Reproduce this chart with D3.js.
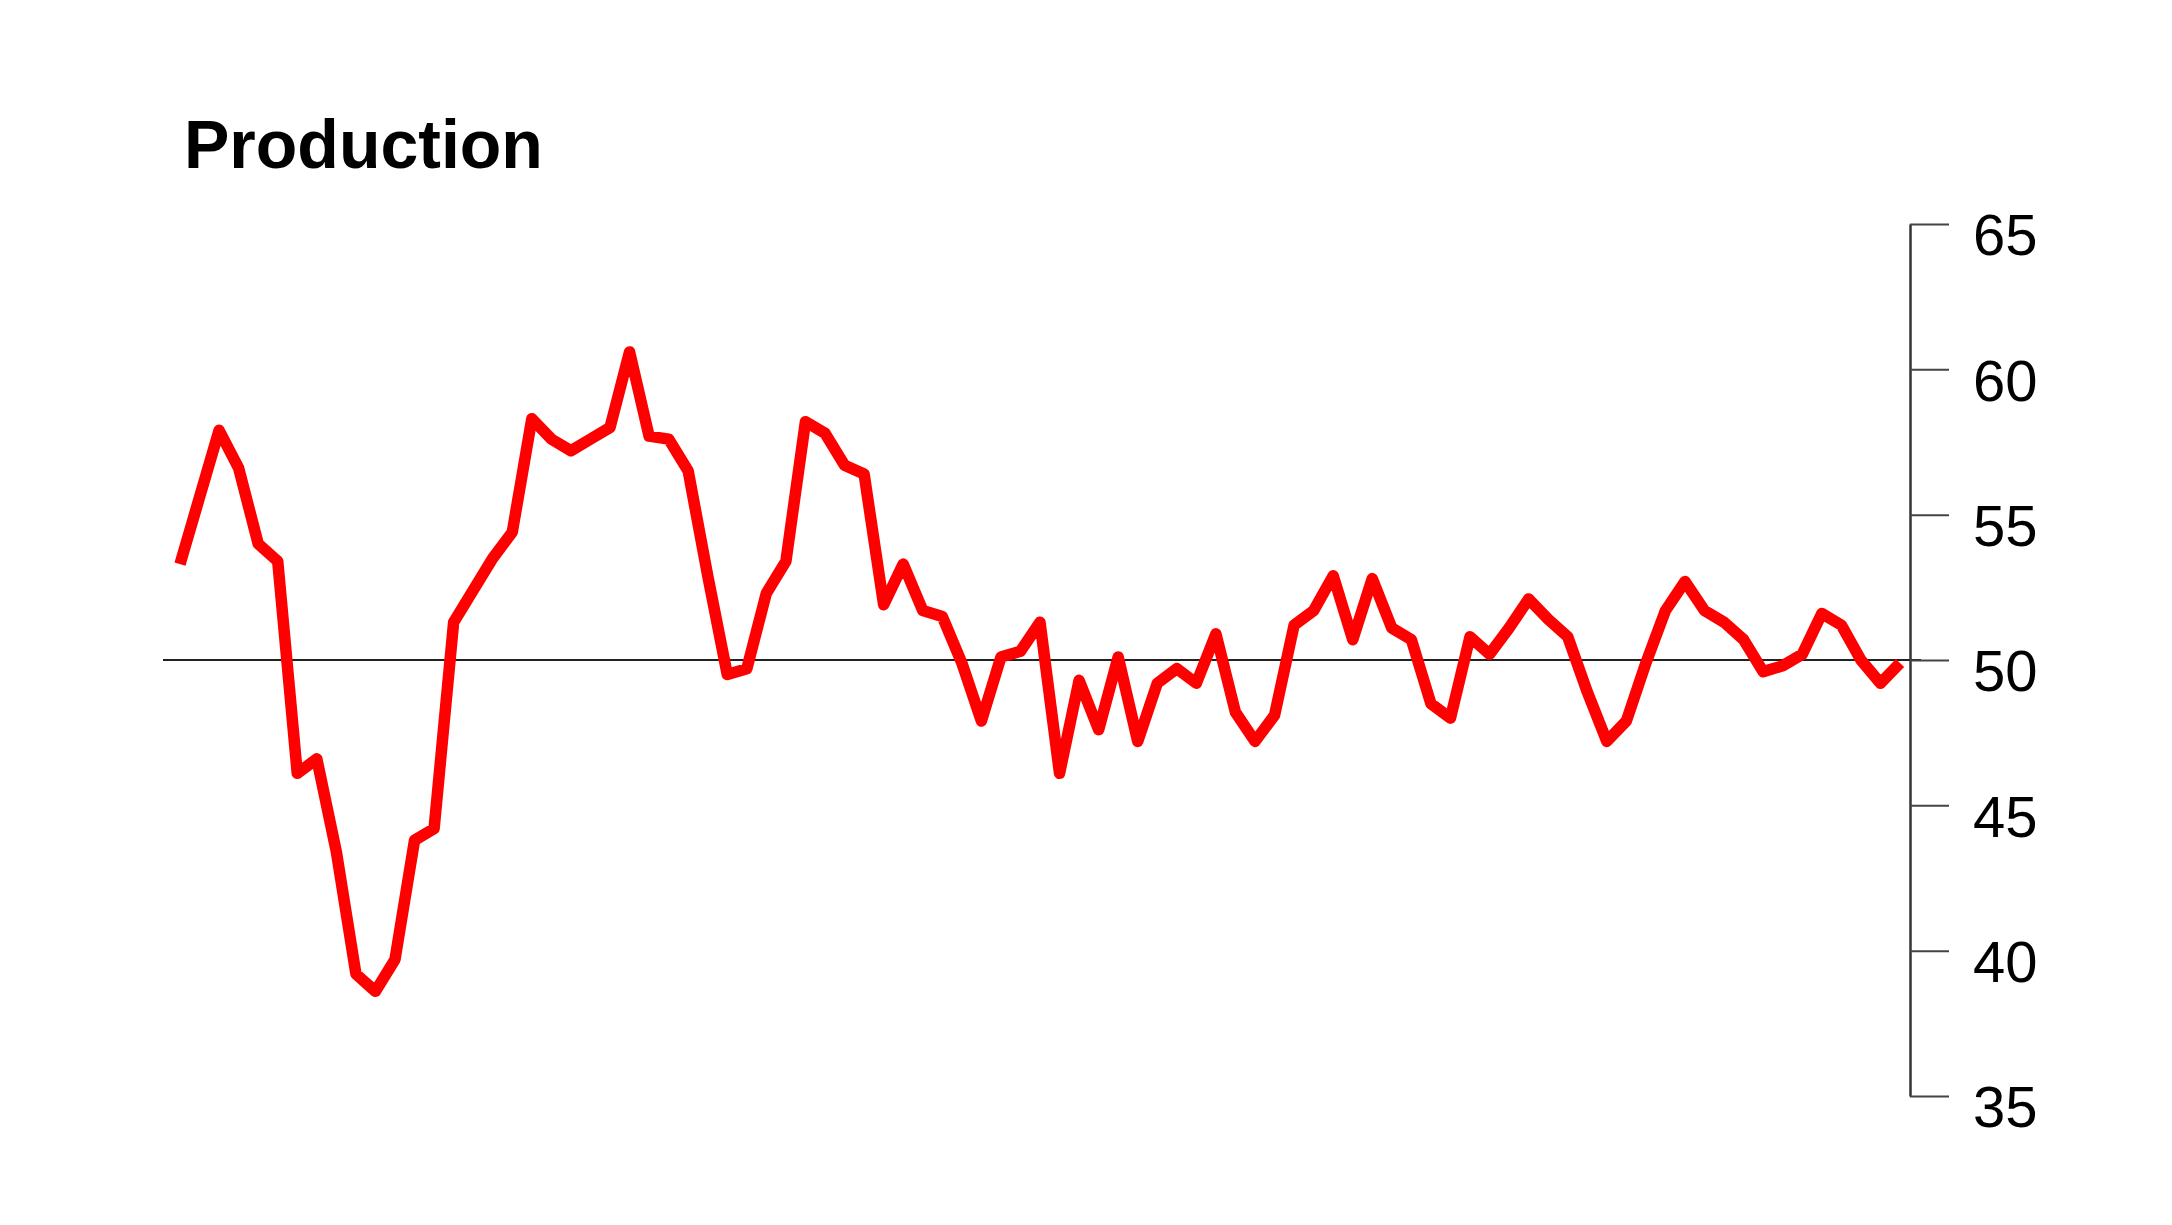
<!DOCTYPE html>
<html>
<head>
<meta charset="utf-8">
<script src="https://cdn.jsdelivr.net/npm/d3@7"></script>
<style>
  body { margin: 0; background: #fff; }
  svg { display: block; font-family: "Liberation Sans", Arial, sans-serif; }
</style>
</head>
<body>
<div id="chart"></div>
<script>
var width = 2172,
    height = 1225;

var title = "Production";

// monthly index values
var production = [
  53.3, 55.6, 57.9, 56.6, 54.0, 53.4, 46.1, 46.6, 43.4, 39.2,
  38.6, 39.7, 43.8, 44.2, 51.3, 52.4, 53.5, 54.4, 58.3, 57.6,
  57.2, 57.6, 58.0, 60.6, 57.7, 57.6, 56.5, 52.9, 49.5, 49.7,
  52.3, 53.4, 58.2, 57.8, 56.7, 56.4, 51.9, 53.3, 51.7, 51.5,
  49.9, 47.9, 50.1, 50.3, 51.3, 46.1, 49.3, 47.6, 50.1, 47.2,
  49.2, 49.7, 49.2, 50.9, 48.2, 47.2, 48.1, 51.2, 51.7, 52.9,
  50.7, 52.8, 51.1, 50.7, 48.5, 48.0, 50.8, 50.2, 51.1, 52.1,
  51.4, 50.8, 48.9, 47.2, 47.9, 49.9, 51.7, 52.7, 51.7, 51.3,
  50.7, 49.6, 49.8, 50.2, 51.6, 51.2, 50.0, 49.2, 49.9
];

var yTicks = [35, 40, 45, 50, 55, 60, 65];
var baseline = 50;

var svg = d3.select("#chart")
    .append("svg")
    .attr("width", width)
    .attr("height", height);

var x = d3.scaleLinear()
    .domain([0, production.length - 1])
    .range([180, 1900]);

var y = d3.scaleLinear()
    .domain([35, 65])
    .range([1096, 224]);

// title
svg.append("text")
    .attr("x", 184)
    .attr("y", 168)
    .attr("font-size", 68)
    .attr("font-weight", "bold")
    .attr("fill", "#000")
    .text(title);

// 50 reference line
svg.append("line")
    .attr("x1", 163)
    .attr("x2", 1921)
    .attr("y1", y(baseline))
    .attr("y2", y(baseline))
    .attr("stroke", "#222")
    .attr("stroke-width", 2);

// right axis
var axis = svg.append("g")
    .attr("transform", "translate(1910,0)")
    .call(d3.axisRight(y)
        .tickValues(yTicks)
        .tickSize(39)
        .tickSizeOuter(0)
        .tickPadding(24)
        .tickFormat(d3.format("d")));

axis.select(".domain")
    .attr("stroke", "#333")
    .attr("stroke-width", 2.5);
axis.selectAll(".tick line")
    .attr("stroke", "#444")
    .attr("stroke-width", 2);
axis.selectAll(".tick text")
    .attr("font-size", 58)
    .attr("font-family", "Liberation Sans, Arial, sans-serif")
    .attr("fill", "#000")
    .attr("dy", "0.53em");

// the series
var line = d3.line()
    .x(function(d, i){ return x(i); })
    .y(function(d){ return y(d); });

svg.append("path")
    .datum(production)
    .attr("d", line)
    .attr("fill", "none")
    .attr("stroke", "#ff0000")
    .attr("stroke-width", 11.5)
    .attr("stroke-linejoin", "round");
</script>
</body>
</html>
